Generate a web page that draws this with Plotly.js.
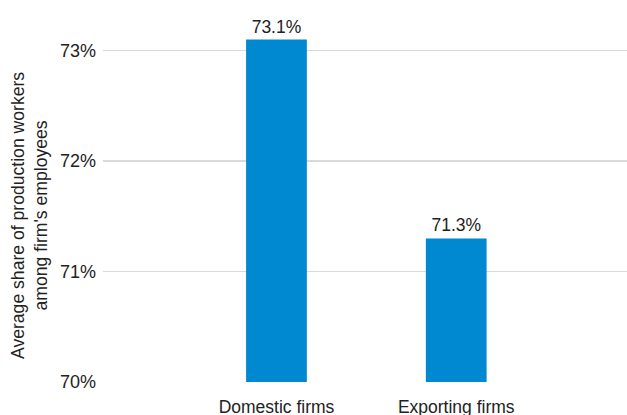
<!DOCTYPE html>
<html>
<head>
<meta charset="utf-8">
<script src="https://cdn.plot.ly/plotly-3.0.1.min.js"></script>
<style>html,body{margin:0;padding:0;background:#fff;}#chart{width:627px;height:415px;}</style>
</head>
<body>
<div id="chart"></div>
<script>
const categories = ["Domestic firms", "Exporting firms"];
const values = [73.1, 71.3];
const valueLabels = ["73.1%", "71.3%"];
const yTickVals = [70, 71, 72, 73];
const yTickText = ["70%", "71%", "72%", "73%"];
const yTitle = "Average share of production workers<br>among firm's employees";

const font = "Liberation Sans, Arial, Helvetica, sans-serif";

const trace = {
  type: "bar",
  x: categories,
  y: values,
  base: 0,
  width: 0.338,
  marker: {color: "#0089D1"},
  text: valueLabels,
  textposition: "outside",
  cliponaxis: false,
  textfont: {family: font, size: 17.5, color: "#222"},
  hoverinfo: "skip"
};

const layout = {
  width: 627, height: 415,
  margin: {l: 103, r: 0, t: 12, b: 33},
  paper_bgcolor: "#fff", plot_bgcolor: "#fff",
  showlegend: false,
  font: {family: font, color: "#222"},
  xaxis: {
    type: "category",
    range: [-0.965, 1.95],
    showgrid: false, zeroline: false, showline: false,
    ticks: "",
    tickfont: {family: font, size: 17.5, color: "#222"},
    ticklabelstandoff: 12
  },
  yaxis: {
    range: [70, 73.35],
    tickvals: yTickVals,
    ticktext: yTickText,
    showgrid: true, gridcolor: "#d9d9d9", gridwidth: 1.3,
    zeroline: false, showline: false, ticks: "",
    tickfont: {family: font, size: 18, color: "#222"},
    ticklabelstandoff: 6
  },
  annotations: [{
    xref: "paper", yref: "paper",
    x: -0.139, y: 0.449,
    xanchor: "center", yanchor: "middle",
    text: yTitle, textangle: -90, showarrow: false,
    font: {family: font, size: 17.6, color: "#222"}
  }]
};

Plotly.newPlot("chart", [trace], layout, {displayModeBar: false, staticPlot: true});
</script>
</body>
</html>
